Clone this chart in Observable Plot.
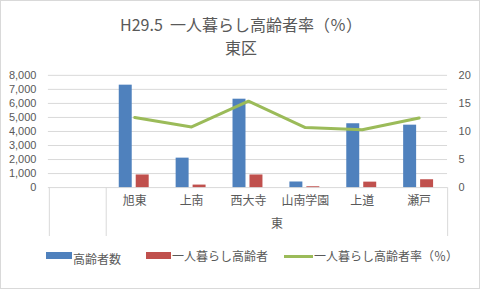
<!DOCTYPE html>
<html>
<head>
<meta charset="utf-8">
<script src="https://cdn.jsdelivr.net/npm/d3@7"></script>
<script src="https://cdn.jsdelivr.net/npm/@observablehq/plot@0.6"></script>
<style>
  html, body { margin: 0; padding: 0; background: #fff; }
  #chart { position: relative; width: 480px; height: 289px; box-sizing: border-box; border: 1px solid #d9d9d9; overflow: hidden; font-family: "Noto Sans CJK JP", "Noto Sans", sans-serif; color: #595959; }
  #title { position: absolute; left: 0; top: 12px; width: 480px; text-align: center; font-size: 16px; line-height: 23px; white-space: pre; }
  #plot { position: absolute; left: -1px; top: -1px; }
  .leg { position: absolute; font-size: 12px; line-height: 14px; white-space: nowrap; }
  .sw { position: absolute; }
</style>
</head>
<body>
<div id="chart">
  <div id="plot"></div>
  <div id="title"></div>
  <div id="legend"></div>
</div>
<script>
// ---- data ----
const titleLines = ["H29.5  一人暮らし高齢者率（％）", "東区"];
const groupName = "東";
const categories = ["旭東", "上南", "西大寺", "山南学園", "上道", "瀬戸"];
const elderly = [7300, 2100, 6300, 400, 4550, 4450];      // 高齢者数
const alone = [900, 180, 900, 60, 390, 560];              // 一人暮らし高齢者
const aloneRate = [12.5, 10.8, 15.4, 10.7, 10.3, 12.4];   // 一人暮らし高齢者率（％）
const leftTicks = [0, 1000, 2000, 3000, 4000, 5000, 6000, 7000, 8000];
const rightTicks = [0, 5, 10, 15, 20];
const seriesNames = ["高齢者数", "一人暮らし高齢者", "一人暮らし高齢者率（％）"];
const colors = ["#4F81BD", "#C0504D", "#9BBB59"];

// ---- build ----
const leftMax = 8000, rightMax = 20, k = leftMax / rightMax;
const rows = categories.map((c, i) => ({cat: c, elderly: elderly[i], alone: alone[i], rate: aloneRate[i]}));
const xDomain = ["", ...categories];
const W = 480, H = 289, mL = 48, mR = 32, mT = 75, mB = 101.5;
const bw = (W - mL - mR) / xDomain.length;
const plotH = H - mT - mB;
const fmt = d3.format(",");
const grey = "#d9d9d9";

const chart = Plot.plot({
  width: W, height: H,
  marginLeft: mL, marginRight: mR, marginTop: mT, marginBottom: mB,
  style: {background: "transparent", fontFamily: "'Noto Sans CJK JP', sans-serif", color: "#595959", overflow: "visible"},
  x: {domain: xDomain, type: "band", padding: 0, axis: null},
  y: {domain: [0, leftMax], axis: null},
  marks: [
    Plot.ruleY(leftTicks, {y: d => d, stroke: grey, strokeWidth: 1}),
    // category axis separators
    Plot.ruleX(["", categories[0]], {x: d => d, dx: -bw / 2, stroke: grey, insetTop: plotH, insetBottom: -49}),
    Plot.ruleX([categories[categories.length - 1]], {x: d => d, dx: bw / 2, stroke: grey, insetTop: plotH, insetBottom: -49}),
    // bars
    Plot.barY(rows, {x: "cat", y: "elderly", fill: colors[0], insetLeft: 13, insetRight: 31}),
    Plot.barY(rows, {x: "cat", y: "alone", fill: colors[1], insetLeft: 30, insetRight: 14}),
    // line (right axis)
    Plot.line(rows, {x: "cat", y: d => d.rate * k, stroke: colors[2], strokeWidth: 3}),
    // left tick labels
    Plot.text(leftTicks, {y: d => d, text: d => fmt(d), frameAnchor: "left", textAnchor: "end", dx: -12, fontSize: 11, fill: "#595959", fontFamily: "'Liberation Sans', Arial, sans-serif"}),
    // right tick labels
    Plot.text(rightTicks, {y: d => d * k, text: d => String(d), frameAnchor: "right", textAnchor: "start", dx: 11, fontSize: 11, fill: "#595959", fontFamily: "'Liberation Sans', Arial, sans-serif"}),
    // category labels
    Plot.text(categories, {x: d => d, text: d => d, frameAnchor: "bottom", dy: 17, fontSize: 12, fill: "#595959"}),
    // group label
    Plot.text([{name: groupName, mid: categories[Math.floor(categories.length / 2) - 1]}], {x: "mid", text: "name", frameAnchor: "bottom", dy: 40, dx: bw / 2, fontSize: 12, fill: "#595959"})
  ]
});
document.getElementById("plot").appendChild(chart);

document.getElementById("title").textContent = titleLines.join("\n");

// legend
const legend = document.getElementById("legend");
const legItems = [
  {sw: {left: 45, top: 251, width: 26, height: 7}, text: {left: 72, top: 251}},
  {sw: {left: 145, top: 251, width: 25, height: 7}, text: {left: 171, top: 248}},
  {sw: {left: 283, top: 254, width: 29, height: 3}, text: {left: 313, top: 248}}
];
legItems.forEach((it, i) => {
  const s = document.createElement("div");
  s.className = "sw";
  Object.assign(s.style, {left: it.sw.left + "px", top: it.sw.top + "px", width: it.sw.width + "px", height: it.sw.height + "px", background: colors[i]});
  legend.appendChild(s);
  const t = document.createElement("div");
  t.className = "leg";
  Object.assign(t.style, {left: it.text.left + "px", top: it.text.top + "px"});
  t.textContent = seriesNames[i];
  legend.appendChild(t);
});
</script>
</body>
</html>
